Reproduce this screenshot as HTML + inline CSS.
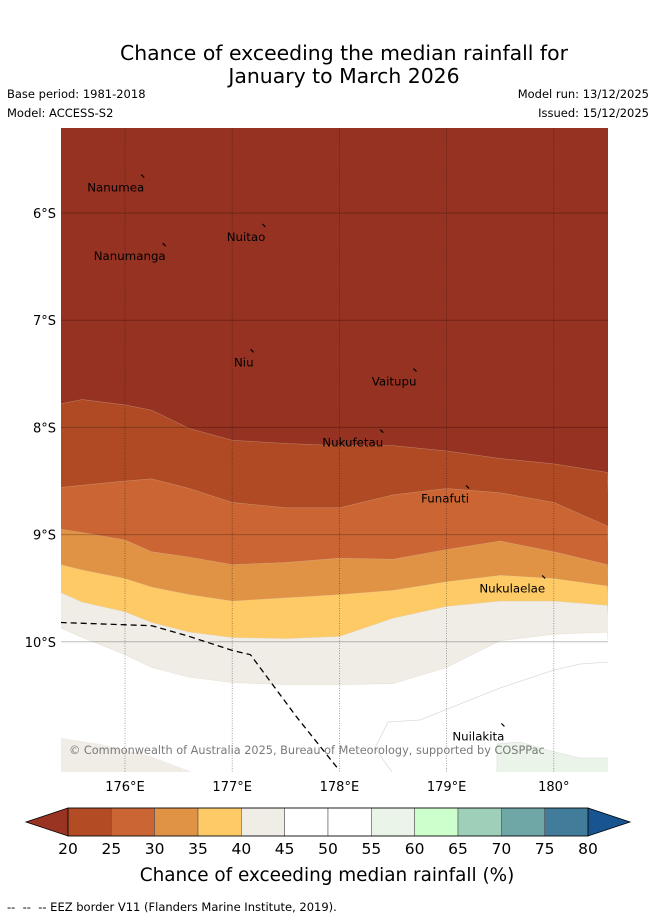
<!DOCTYPE html>
<html><head><meta charset="utf-8">
<style>
body{margin:0;background:#fff;width:655px;height:919px;overflow:hidden;font-family:"DejaVu Sans","Liberation Sans",sans-serif;}
svg text{font-family:"DejaVu Sans","Liberation Sans",sans-serif;}
</style></head>
<body>
<svg id="chart" width="655" height="919" viewBox="0 0 655 919" xmlns="http://www.w3.org/2000/svg">
<text x="344" y="60" font-size="20.4" text-anchor="middle" fill="#000">Chance of exceeding the median rainfall for</text>
<text x="344" y="83" font-size="20.4" text-anchor="middle" fill="#000">January to March 2026</text>
<text x="7" y="98" font-size="11.5">Base period: 1981-2018</text>
<text x="7" y="117" font-size="11.5">Model: ACCESS-S2</text>
<text x="649" y="98" font-size="11.5" text-anchor="end">Model run: 13/12/2025</text>
<text x="649" y="117" font-size="11.5" text-anchor="end">Issued: 15/12/2025</text>
<defs><clipPath id="mapclip"><rect x="61" y="128" width="547" height="644"/></clipPath></defs>
<g id="map" clip-path="url(#mapclip)"></g>
<g id="axes"></g>
<g id="cbar"></g>
<text x="327" y="881" font-size="18.4" text-anchor="middle">Chance of exceeding median rainfall (%)</text>
<text x="7" y="911" font-size="11.5" xml:space="preserve">--  --  -- EEZ border V11 (Flanders Marine Institute, 2019).</text>
</svg>
<script>
const lons=[175.4,175.6,176,176.25,176.6,177,177.5,178,178.5,179,179.5,180,180.5];
const bound20=[7.78,7.74,7.79,7.84,8.01,8.12,8.15,8.17,8.17,8.22,8.29,8.34,8.42];
const bound25=[8.56,8.54,8.50,8.48,8.57,8.70,8.75,8.75,8.63,8.57,8.61,8.70,8.92];
const bound30=[8.95,8.98,9.05,9.16,9.21,9.28,9.26,9.22,9.23,9.14,9.06,9.16,9.28];
const bound35=[9.28,9.33,9.41,9.49,9.56,9.62,9.59,9.56,9.52,9.44,9.38,9.41,9.48];
const bound40=[9.54,9.63,9.72,9.82,9.91,9.96,9.97,9.95,9.78,9.67,9.62,9.62,9.66];
const bound45=[9.87,9.96,10.12,10.24,10.33,10.38,10.40,10.40,10.39,10.24,9.99,9.93,9.91];
const lonTicks=[176,177,178,179,180];
const lonTickLabels=["176°E","177°E","178°E","179°E","180°"];
const latTicks=[6,7,8,9,10];
const latTickLabels=["6°S","7°S","8°S","9°S","10°S"];
const cbarLevels=[20,25,30,35,40,45,50,55,60,65,70,75,80];
const cbarColors=["#b34b24","#cb6533","#e09245","#fdca66","#f0ece6","#ffffff","#ffffff","#eaf4e8","#ccffcc","#9ecfb8","#6fa6a6","#417c9a"];
const islandNames=["Nanumea","Nuitao","Nanumanga","Niu","Vaitupu","Nukufetau","Funafuti","Nukulaelae","Nuilakita"];
const islandLon=[176.17,177.3,176.37,177.19,178.71,178.4,179.2,179.91,179.53];
const islandLat=[5.66,6.12,6.3,7.29,7.47,8.04,8.56,9.4,10.78];
const eezLon=[175.4,176.25,176.6,177,177.17,177.6,178.0];
const eezLat=[9.82,9.85,9.95,10.08,10.12,10.7,11.2];

const NS="http://www.w3.org/2000/svg";
const X=lon=>125+(lon-176)*107.2;
const Y=lat=>213+(lat-6)*107.2;
const map=document.getElementById('map'),axes=document.getElementById('axes'),cb=document.getElementById('cbar');
function mk(tag,attrs,parent){const e=document.createElementNS(NS,tag);for(const k in attrs)e.setAttribute(k,attrs[k]);parent.appendChild(e);return e;}

let bg=mk('rect',{x:61,y:128,width:547,height:644,fill:'#963221'},map);


const bands=[[bound20,'#b04a24','band-20-25'],[bound25,'#cb6533','band-25-30'],[bound30,'#e09245','band-30-35'],[bound35,'#fdca66','band-35-40'],[bound40,'#f0ece6','band-40-45'],[bound45,'#ffffff','band-45-55']];
bands.forEach(b=>{
  let d='M'+lons.map((l,i)=>X(l)+','+Y(b[0][i])).join(' L')+' L620,790 L50,790 Z';
  const p=mk('path',{d:d,fill:b[1],stroke:'#d9c9b0','stroke-width':0.5,'stroke-opacity':0.5},map);
  
  
});
let g1=mk('path',{d:'M61,738 L100,744 L150,756 L200,775 L61,775 Z',fill:'#f0ece6'},map);


let g2=mk('path',{d:'M497,775 L497,744 L520,742 L547,750 L580,758 L610,758 L610,775 Z',fill:'#eaf4e8',stroke:'#ddd','stroke-width':0.6},map);


let c1=mk('path',{d:'M394,775 L375,748 L388,722 L420,720 L470,700 L500,688 L554,670 L580,664 L610,662',fill:'none',stroke:'#dcdcdc','stroke-width':0.8},map);


lonTicks.forEach(l=>{const e=mk('line',{x1:X(l),x2:X(l),y1:128,y2:772,stroke:'#000','stroke-opacity':0.45,'stroke-width':0.8,'stroke-dasharray':'1,1.5'},map);

});
latTicks.forEach(l=>{const e=mk('line',{x1:61,x2:608,y1:Y(l),y2:Y(l),stroke:'#000','stroke-opacity':0.25,'stroke-width':1},map);

});
let ez=mk('path',{d:'M'+eezLon.map((l,i)=>X(l)+','+Y(eezLat[i])).join(' L'),fill:'none',stroke:'#000','stroke-width':1.3,'stroke-dasharray':'6,4'},map);


islandNames.forEach((n,i)=>{
  const x=X(islandLon[i]),y=Y(islandLat[i]);
  const m=mk('path',{d:`M${x-2},${y-2} L${x+1},${y+1}`,stroke:'#000','stroke-width':1.2},map);
  
  
  const t=mk('text',{x:x+1,y:y+15,'font-size':11.8,'text-anchor':'end',fill:'#000'},map);
  t.textContent=n;
  
  
});
let cp=mk('text',{x:69,y:754,'font-size':11.3,fill:'#7a7a7a'},map);
cp.textContent='© Commonwealth of Australia 2025, Bureau of Meteorology, supported by COSPPac';


lonTicks.forEach((l,i)=>{const t=mk('text',{x:X(l),y:791,'font-size':13,'text-anchor':'middle'},axes);t.textContent=lonTickLabels[i];

});
latTicks.forEach((l,i)=>{const t=mk('text',{x:56,y:Y(l)+5,'font-size':13,'text-anchor':'end'},axes);t.textContent=latTickLabels[i];

});
const cx0=68,cx1=588,cy0=808,cy1=836;
const CX=v=>cx0+(v-cbarLevels[0])/(cbarLevels[cbarLevels.length-1]-cbarLevels[0])*(cx1-cx0);
let lt=mk('path',{d:`M${cx0},${cy0} L26,822 L${cx0},${cy1} Z`,fill:'#993322',stroke:'#000','stroke-width':0.8},cb);


let rt=mk('path',{d:`M${cx1},${cy0} L630,822 L${cx1},${cy1} Z`,fill:'#185590',stroke:'#000','stroke-width':0.8},cb);


cbarColors.forEach((c,i)=>{const r=mk('rect',{x:CX(cbarLevels[i]),y:cy0,width:CX(cbarLevels[i+1])-CX(cbarLevels[i]),height:cy1-cy0,fill:c,stroke:'#555','stroke-width':0.6},cb);

});
mk('rect',{x:cx0,y:cy0,width:cx1-cx0,height:cy1-cy0,fill:'none',stroke:'#000','stroke-width':0.8},cb);
cbarLevels.forEach(v=>{const t=mk('text',{x:CX(v),y:854,'font-size':15.5,'text-anchor':'middle'},cb);t.textContent=v;

});
</script>
</body></html>
